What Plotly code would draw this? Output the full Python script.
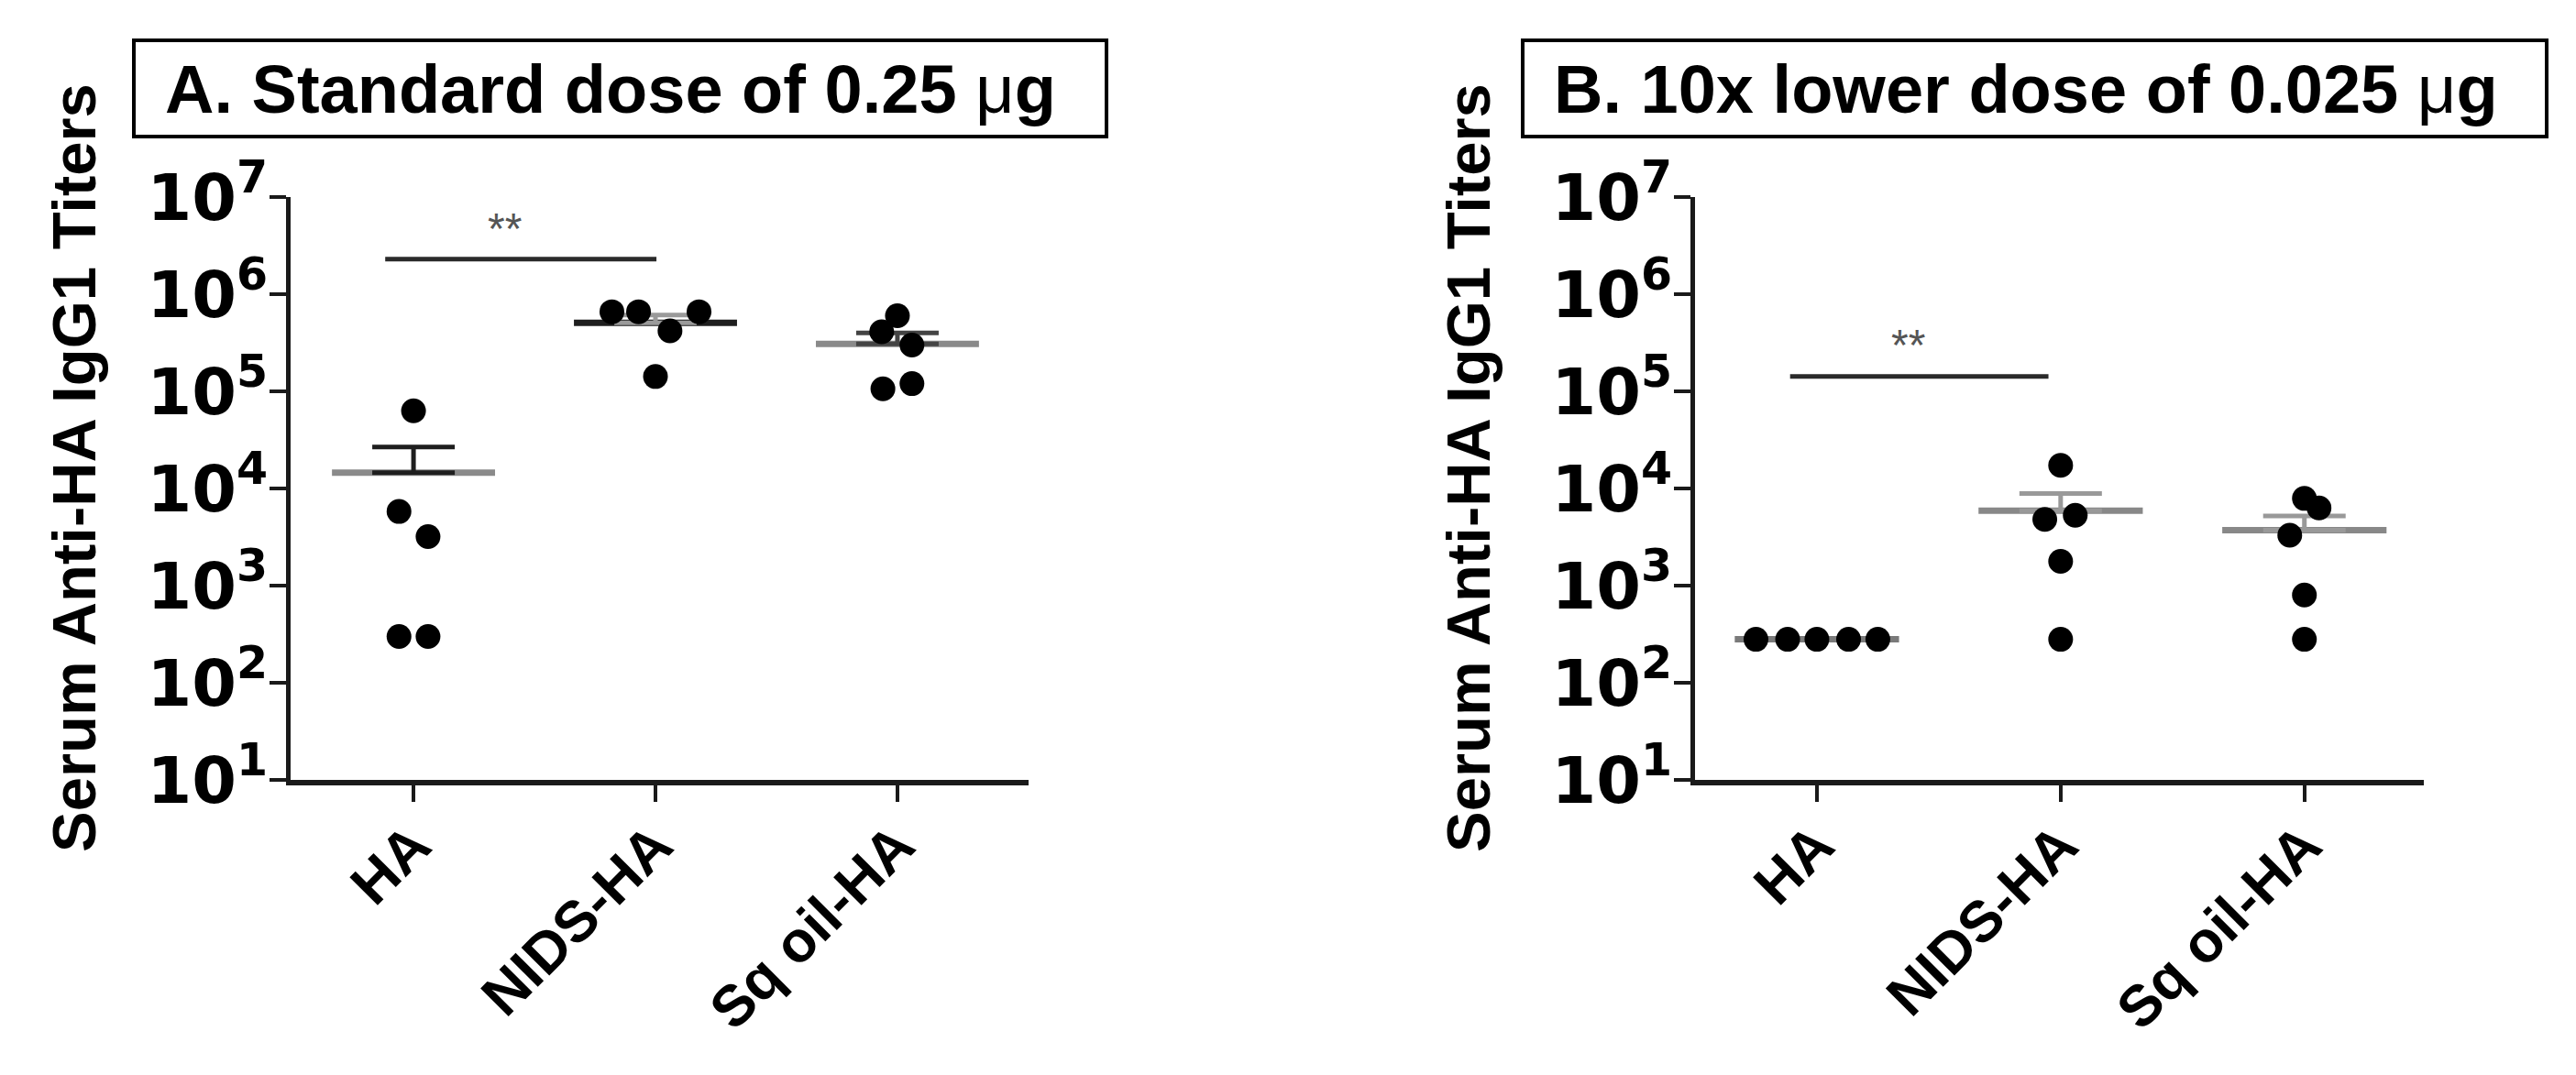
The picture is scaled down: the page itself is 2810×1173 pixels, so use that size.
import numpy as np
import plotly.graph_objects as go

# ---------------- data ----------------
categories = ["HA", "NIDS-HA", "Sq oil-HA"]
tick_values = [1e1, 1e2, 1e3, 1e4, 1e5, 1e6, 1e7]
tick_labels = ["10<sup>1</sup>", "10<sup>2</sup>", "10<sup>3</sup>", "10<sup>4</sup>",
               "10<sup>5</sup>", "10<sup>6</sup>", "10<sup>7</sup>"]

# Panel A: standard dose (0.25 ug)
a_ha = [63000, 5800, 3200, 300, 300]
a_nids = [660000, 660000, 660000, 420000, 142000]
a_sq = [600000, 410000, 300000, 120000, 106000]

# Panel B: 10x lower dose (0.025 ug)
b_ha = [280, 280, 280, 280, 280]
b_nids = [17300, 5300, 4800, 1780, 280]
b_sq = [7900, 6300, 3300, 800, 280]

# horizontal scatter offsets of the dots inside each group (category units)
a_ha_off = [0.0, -0.06, 0.06, -0.06, 0.06]
a_nids_off = [-0.18, -0.07, 0.18, 0.06, 0.0]
a_sq_off = [0.0, -0.065, 0.06, 0.06, -0.06]
b_ha_off = [-0.25, -0.12, 0.0, 0.13, 0.25]
b_nids_off = [0.0, 0.06, -0.065, 0.0, 0.0]
b_sq_off = [0.0, 0.06, -0.06, 0.0, 0.0]

titles = ["A. Standard dose of 0.25 ", "B. 10x lower dose of 0.025 "]
y_title = "Serum Anti-HA IgG1 Titers"
sig_label = "**"

# ---------------- layout helpers ----------------
W, H = 2810, 1173
FONT = "Liberation Sans, Arial, sans-serif"
TICKFONT = "DejaVu Sans, Liberation Sans, sans-serif"


def fx(p):
    return p / W


def fy(p):
    return 1 - p / H


panels = [
    dict(xa="x", ya="y", groups=[a_ha, a_nids, a_sq], offs=[a_ha_off, a_nids_off, a_sq_off],
         xdom=[309, 1114], xrange=[-0.508, 2.542],
         mean_col=["#8a8a8a", "#1e1e1e", "#8a8a8a"], sem_col=["#1e1e1e", "#9a9a9a", "#444444"],
         sig=(-0.117, 1.004, 2.29e6, 0.375, 4.7e6),
         box=[138, 36, 1199, 141], title_x=170, ytitle_x=72, title=titles[0]),
    dict(xa="x2", ya="y2", groups=[b_ha, b_nids, b_sq], offs=[b_ha_off, b_nids_off, b_sq_off],
         xdom=[1841, 2636], xrange=[-0.5, 2.49],
         mean_col=["#7a7a7a", "#888888", "#888888"], sem_col=["#7a7a7a", "#999999", "#999999"],
         sig=(-0.11, 0.95, 1.42e5, 0.376, 3.0e5),
         box=[1653, 36, 2770, 141], title_x=1685, ytitle_x=1593, title=titles[1]),
]

fig = go.Figure()
shapes = []
annotations = []

for p in panels:
    # mean lines and SEM (upper) whiskers
    for gi, vals in enumerate(p["groups"]):
        v = np.array(vals, dtype=float)
        mean = v.mean()
        sem = v.std(ddof=1) / np.sqrt(len(v))
        fig.add_trace(go.Scatter(
            x=[gi - 0.337, gi + 0.337], y=[mean, mean], mode="lines",
            line=dict(color=p["mean_col"][gi], width=7),
            xaxis=p["xa"], yaxis=p["ya"], showlegend=False, hoverinfo="skip"))
        if sem > 0:
            fig.add_trace(go.Scatter(
                x=[gi], y=[mean], mode="markers", marker=dict(size=1, opacity=0),
                error_y=dict(type="data", symmetric=False, array=[sem], arrayminus=[0],
                             color=p["sem_col"][gi], thickness=5, width=45),
                xaxis=p["xa"], yaxis=p["ya"], showlegend=False, hoverinfo="skip"))
    # dots
    for gi, vals in enumerate(p["groups"]):
        fig.add_trace(go.Scatter(
            x=[gi + o for o in p["offs"][gi]], y=vals, mode="markers",
            marker=dict(color="black", size=27, line=dict(width=0)),
            xaxis=p["xa"], yaxis=p["ya"], showlegend=False,
            hovertemplate=categories[gi] + ": %{y}<extra></extra>"))
    # significance bar
    x0, x1, ybar, xs, ys = p["sig"]
    fig.add_trace(go.Scatter(
        x=[x0, x1], y=[ybar, ybar], mode="lines", line=dict(color="#2a2a2a", width=5),
        xaxis=p["xa"], yaxis=p["ya"], showlegend=False, hoverinfo="skip"))
    annotations.append(dict(
        x=xs, y=np.log10(ys), xref=p["xa"], yref=p["ya"], text=sig_label, showarrow=False,
        font=dict(family=FONT, size=48, color="#555555")))
    # title box
    bx0, by0, bx1, by1 = p["box"]
    shapes.append(dict(type="rect", xref="paper", yref="paper",
                       x0=fx(bx0), x1=fx(bx1), y0=fy(by1), y1=fy(by0),
                       line=dict(color="black", width=4), fillcolor="rgba(0,0,0,0)"))
    annotations.append(dict(
        x=fx(p["title_x"]), y=fy(90), xref="paper", yref="paper",
        xanchor="left", yanchor="middle", showarrow=False,
        text="<b>" + p["title"] + "</b>μ<b>g</b>",
        font=dict(family=FONT, size=74, color="black")))
    # y-axis title
    annotations.append(dict(
        x=fx(p["ytitle_x"]), y=fy(503), xref="paper", yref="paper",
        xanchor="center", yanchor="middle", showarrow=False, textangle=-90,
        text=y_title, font=dict(family=FONT, size=67, color="black", weight="bold")))

xcommon = dict(tickmode="array", tickvals=[0, 1, 2], ticktext=categories, tickangle=-45,
               ticks="outside", ticklen=18, tickwidth=4, tickcolor="#1a1a1a",
               showline=True, linewidth=6, linecolor="#1a1a1a",
               showgrid=False, zeroline=False, automargin=False,
               ticklabelstandoff=-15,
               tickfont=dict(family=FONT, size=63, color="black", weight="bold"))
ycommon = dict(type="log", range=[1, 7], tickmode="array", tickvals=tick_values, ticktext=tick_labels,
               ticks="outside", ticklen=18, tickwidth=4, tickcolor="#1a1a1a",
               showline=True, linewidth=5, linecolor="#1a1a1a",
               showgrid=False, zeroline=False, automargin=False,
               ticklabelstandoff=-12,
               tickfont=dict(family=TICKFONT, size=70, color="black", weight="bold"))

ydom = [fy(843), fy(207)]
fig.update_layout(
    width=W, height=H, margin=dict(l=0, r=0, t=0, b=0),
    paper_bgcolor="white", plot_bgcolor="white",
    xaxis=dict(domain=[fx(panels[0]["xdom"][0]), fx(panels[0]["xdom"][1])],
               range=panels[0]["xrange"], anchor="y", **xcommon),
    yaxis=dict(domain=ydom, anchor="x", **ycommon),
    xaxis2=dict(domain=[fx(panels[1]["xdom"][0]), fx(panels[1]["xdom"][1])],
                range=panels[1]["xrange"], anchor="y2", **xcommon),
    yaxis2=dict(domain=ydom, anchor="x2", **ycommon),
    shapes=shapes, annotations=annotations, showlegend=False,
    font=dict(family=FONT),
)

fig.write_html("out.html")
